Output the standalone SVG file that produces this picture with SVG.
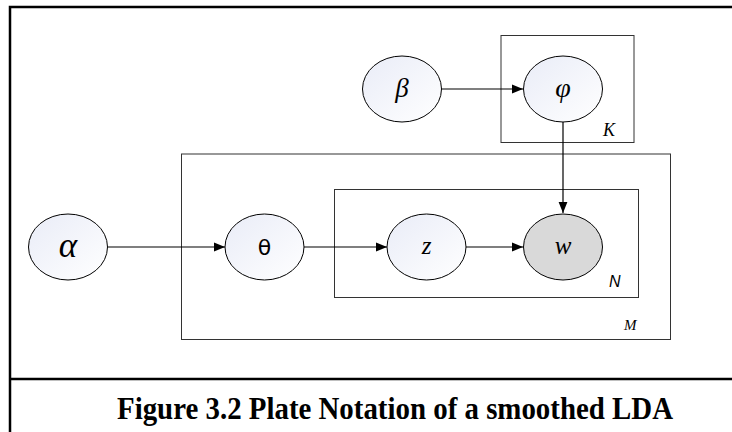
<svg xmlns="http://www.w3.org/2000/svg" width="732" height="432" viewBox="0 0 732 432">
<defs>
<linearGradient id="nodeFill" x1="0" y1="0" x2="1" y2="1">
<stop offset="0" stop-color="#e9ecf7"/>
<stop offset="1" stop-color="#ffffff"/>
</linearGradient>
<marker id="arrow" viewBox="0 0 10 10" refX="10" refY="5" markerWidth="11" markerHeight="11" markerUnits="userSpaceOnUse" orient="auto">
<path d="M0,1 L10,5 L0,9 Z" fill="#000"/>
</marker>
<style>
.frame{fill:none;stroke:#000;stroke-width:2.5}
.plate{fill:none;stroke:#333;stroke-width:1}
.node{fill:url(#nodeFill);stroke:#000;stroke-width:1}
.obs{fill:#d9d9d9;stroke:#000;stroke-width:1}
.edge{fill:none;stroke:#000;stroke-width:1.2;marker-end:url(#arrow)}
.lbl{font-family:"Liberation Serif",serif;font-style:italic;text-anchor:middle;fill:#000}
.plbl{font-family:"Liberation Serif",serif;font-style:italic;fill:#000}
.cap{font-family:"Liberation Serif",serif;font-weight:bold;font-size:32px;text-anchor:middle;fill:#000}
</style>
</defs>
<rect width="732" height="432" fill="#fff"/>
<g id="frame">
<path class="frame" d="M10,432 L10,7 L732,7"/>
<path class="frame" d="M10,379 L732,379"/>
</g>
<g id="plates">
<rect id="plate-K" class="plate" x="501" y="35.5" width="133" height="107"/>
<rect id="plate-M" class="plate" x="181.5" y="154" width="489" height="185.5"/>
<rect id="plate-N" class="plate" x="334.5" y="189.5" width="304" height="108"/>
<text class="plbl" x="603" y="136" font-size="18">K</text>
<text x="609" y="287" font-size="16" font-family="Liberation Sans,sans-serif" font-style="italic">N</text>
<text class="plbl" x="624" y="330" font-size="15">M</text>
</g>
<g id="connectors">
<line class="edge" x1="441" y1="89" x2="523" y2="89"/>
<line class="edge" x1="563" y1="122" x2="563" y2="213"/>
<line class="edge" x1="108" y1="247" x2="225" y2="247"/>
<line class="edge" x1="304" y1="247" x2="387" y2="247"/>
<line class="edge" x1="466" y1="247" x2="523" y2="247"/>
</g>
<g id="node-beta">
<ellipse class="node" cx="402" cy="89" rx="39.5" ry="33"/>
<text class="lbl" x="402" y="97" font-size="27">β</text>
</g>
<g id="node-phi">
<ellipse class="node" cx="563" cy="89" rx="39.5" ry="33"/>
<text class="lbl" x="563" y="97" font-size="28">φ</text>
</g>
<g id="node-alpha">
<ellipse class="node" cx="68" cy="247" rx="39.5" ry="33"/>
<text class="lbl" x="68" y="257" font-size="35">α</text>
</g>
<g id="node-theta">
<ellipse class="node" cx="264.5" cy="247" rx="39.5" ry="33"/>
<text x="264.5" y="255" font-size="22" font-family="DejaVu Sans,sans-serif" text-anchor="middle">θ</text>
</g>
<g id="node-z">
<ellipse class="node" cx="426.5" cy="247" rx="39.5" ry="33"/>
<text class="lbl" x="426.5" y="254" font-size="25">z</text>
</g>
<g id="node-w">
<ellipse class="obs" cx="563" cy="247" rx="39.5" ry="33"/>
<text class="lbl" x="563" y="254" font-size="25">w</text>
</g>
<g id="caption">
<text class="cap" x="395" y="419" textLength="556" lengthAdjust="spacingAndGlyphs">Figure 3.2 Plate Notation of a smoothed LDA</text>
</g>
</svg>
